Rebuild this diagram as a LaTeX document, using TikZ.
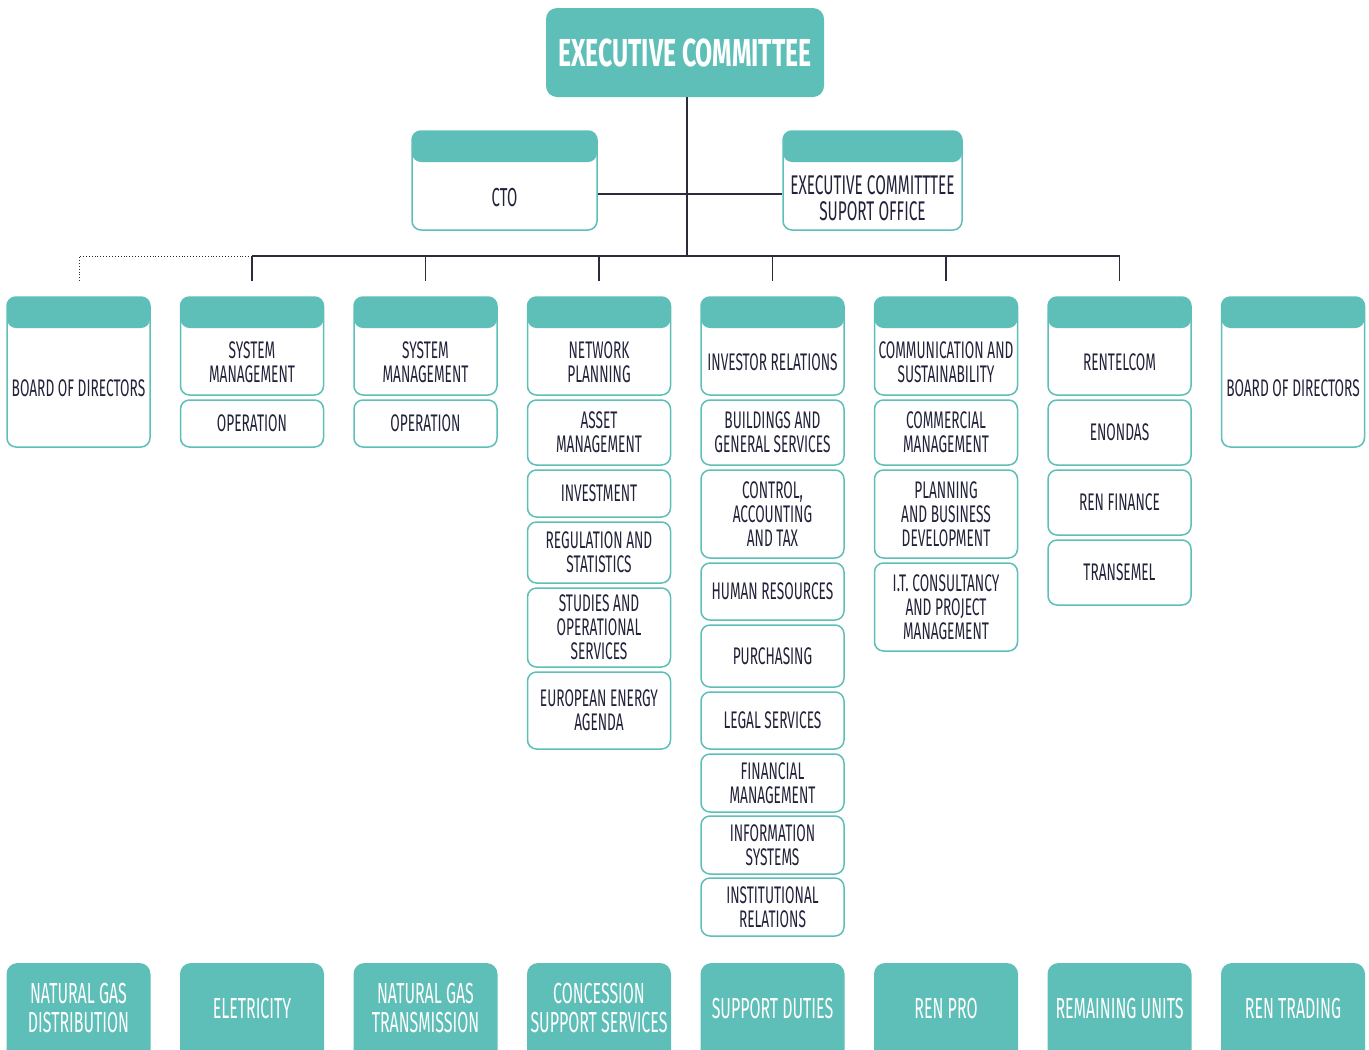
\documentclass[tikz,border=0pt]{standalone}
\usepackage{fontspec}
\usepackage{tikz}
\newfontfamily\unitfont[FakeStretch=0.57]{Fira Sans}
\newfontfamily\areafont[FakeStretch=0.55]{Fira Sans}
\newfontfamily\titlefont[FakeStretch=0.635]{Fira Sans}
\definecolor{renteal}{HTML}{5DBFB8}
\definecolor{rentext}{HTML}{22223A}
\definecolor{renline}{HTML}{2B2B3B}

\tikzset{
  unit/.style={draw=renteal,line width=1.5pt,fill=white,rounded corners=9pt,
    minimum width=143pt,inner sep=0pt},
  headunit/.style={unit,path picture={\fill[renteal] (path picture bounding box.north west)
    rectangle ([yshift=-31pt]path picture bounding box.north east);}},
  area/.style={fill=renteal,rounded corners=11pt,minimum width=144pt,minimum height=110pt},
  lbl/.style={text=rentext,align=center,inner sep=0pt,font=\unitfont\fontsize{24}{24}\selectfont},
  arealbl/.style={text=white,align=center,inner sep=0pt,font=\areafont\fontsize{29}{29}\selectfont},
  wire/.style={draw=renline,line width=1.1pt},
}

\begin{document}
\begin{tikzpicture}[x=1pt,y=-1pt,line cap=butt]
\useasboundingbox (0,0) rectangle (1369,1050);
\clip (0,0) rectangle (1369,1050);

% top of the tree
\node[fill=renteal,rounded corners=11pt,minimum width=278pt,minimum height=89pt,
  text=white,font=\titlefont\bfseries\fontsize{39}{39}\selectfont] (exec) at (685,52.5) {EXECUTIVE COMMITTEE};
\node[headunit,minimum width=185pt,minimum height=99pt] (cto) at (504.5,180.5) {};
\node[lbl,font=\unitfont\fontsize{26}{26}\selectfont] (cto-t) at ([yshift=-17.5pt]cto.center) {CTO};
\node[headunit,minimum width=179pt,minimum height=99pt] (eso) at (872.5,180.5) {};
\node[lbl,font=\unitfont\fontsize{27}{26}\selectfont] (eso-t) at ([yshift=-17.5pt]eso.center) {EXECUTIVE COMMITTTEE\\SUPORT OFFICE};

% bus and drops
\foreach \x [count=\i] in {252,425.5,599,772.5,946,1119.5} {
  \coordinate (tap\i) at (\x,256);
  \coordinate (drop\i) at (\x,281);
  \draw[wire] (tap\i) -- (drop\i);
}
\coordinate (drop0) at (79,281);
\draw[wire] (tap1) -- (tap6);
\draw[wire] ([xshift=2pt]exec.south) -- ([xshift=2pt]exec.south |- tap1);
\draw[wire] (cto.east |- 0,194) -- (eso.west |- 0,194);
\draw[renline,line width=0.9pt,dotted] (tap1) -| (drop0);

% column heads
\foreach \x/\n/\h/\t in {78.5/bod/150/{BOARD OF DIRECTORS},252/sma/98/{SYSTEM\\MANAGEMENT},
    425.5/smb/98/{SYSTEM\\MANAGEMENT},599/np/98/{NETWORK\\PLANNING},772.5/ir/98/{INVESTOR RELATIONS},
    946/cs/98/{COMMUNICATION AND\\SUSTAINABILITY},1119.5/rtc/98/{RENTELCOM},1293/bodb/150/{BOARD OF DIRECTORS}} {
  \node[headunit,minimum height=\h pt] (\n) at (\x,297+\h/2) {};
  \node[lbl] (\n-t) at ([yshift=-16.5pt]\n.center) {\t};
}

% units below the heads
\node[unit,lbl,minimum height=47pt] (opa) at (252,423.5) {OPERATION};
\node[unit,lbl,minimum height=47pt] (opb) at (425.5,423.5) {OPERATION};

\node[unit,lbl,minimum height=65pt] (asset) at (599,432.5) {ASSET\\MANAGEMENT};
\node[unit,lbl,minimum height=47pt] (invest) at (599,493.5) {INVESTMENT};
\node[unit,lbl,minimum height=61pt] (reg) at (599,552.5) {REGULATION AND\\STATISTICS};
\node[unit,lbl,minimum height=79pt] (studies) at (599,627.5) {STUDIES AND\\OPERATIONAL\\SERVICES};
\node[unit,lbl,minimum height=77pt] (eea) at (599,710.5) {EUROPEAN ENERGY\\AGENDA};

\node[unit,lbl,minimum height=65pt] (bgs) at (772.5,432.5) {BUILDINGS AND\\GENERAL SERVICES};
\node[unit,lbl,minimum height=88pt] (cat) at (772.5,514) {CONTROL,\\ACCOUNTING\\AND TAX};
\node[unit,lbl,minimum height=57pt] (hr) at (772.5,591.5) {HUMAN RESOURCES};
\node[unit,lbl,minimum height=62pt] (purch) at (772.5,656) {PURCHASING};
\node[unit,lbl,minimum height=57pt] (legal) at (772.5,720.5) {LEGAL SERVICES};
\node[unit,lbl,minimum height=58pt] (fin) at (772.5,783) {FINANCIAL\\MANAGEMENT};
\node[unit,lbl,minimum height=58pt] (infosys) at (772.5,845) {INFORMATION\\SYSTEMS};
\node[unit,lbl,minimum height=58pt] (inst) at (772.5,907) {INSTITUTIONAL\\RELATIONS};

\node[unit,lbl,minimum height=65pt] (cm) at (946,432.5) {COMMERCIAL\\MANAGEMENT};
\node[unit,lbl,minimum height=88pt] (pbd) at (946,514) {PLANNING\\AND BUSINESS\\DEVELOPMENT};
\node[unit,lbl,minimum height=88pt] (itc) at (946,607) {I.T. CONSULTANCY\\AND PROJECT\\MANAGEMENT};

\node[unit,lbl,minimum height=65pt] (enondas) at (1119.5,432.5) {ENONDAS};
\node[unit,lbl,minimum height=65pt] (renfin) at (1119.5,502.5) {REN FINANCE};
\node[unit,lbl,minimum height=65pt] (transemel) at (1119.5,572.5) {TRANSEMEL};

% business areas along the bottom
\foreach \x/\n/\t in {78.5/gasdist/{NATURAL GAS\\DISTRIBUTION},252/elec/{ELETRICITY},
    425.5/gastrans/{NATURAL GAS\\TRANSMISSION},599/css/{CONCESSION\\SUPPORT SERVICES},
    772.5/duties/{SUPPORT DUTIES},946/renpro/{REN PRO},1119.5/remain/{REMAINING UNITS},
    1293/trading/{REN TRADING}} {
  \node[area] (\n) at (\x,1018) {};
  \node[arealbl] (\n-t) at ([yshift=10pt]\n.center) {\t};
}
\end{tikzpicture}
\end{document}
